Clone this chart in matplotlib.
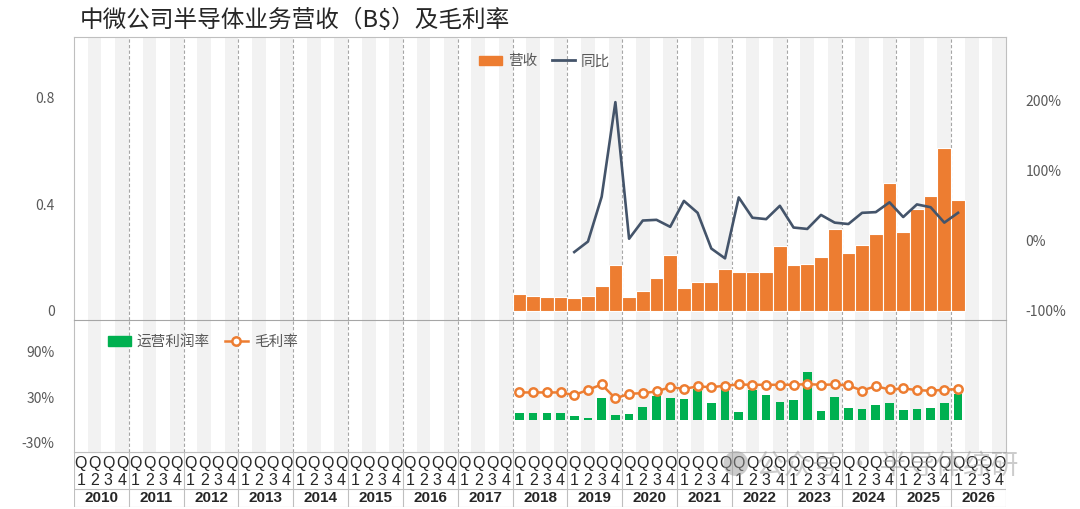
import matplotlib.pyplot as plt
import matplotlib.lines as mlines
import matplotlib.patches as mpatches

plt.rcParams['font.family'] = ['Noto Sans CJK SC', 'DejaVu Sans']

# data (2018Q1 onwards)
years = [str(y) for y in range(2010, 2027)]
start_q = 32  # 2018Q1 index
revenue = [0.063, 0.056, 0.054, 0.054, 0.050, 0.058, 0.094, 0.174,
           0.053, 0.075, 0.124, 0.210, 0.088, 0.109, 0.109, 0.158,
           0.145, 0.148, 0.145, 0.244, 0.174, 0.176, 0.204, 0.309,
           0.219, 0.249, 0.289, 0.482, 0.295, 0.384, 0.431, 0.613,
           0.418]
yoy_start = 36  # 2019Q1
yoy = [-16, -1, 63, 198, 3, 29, 30, 20, 57, 40, -11, -25,
       62, 33, 31, 50, 19, 17, 37, 26, 24, 40, 41, 55,
       34, 52, 48, 26, 40]
op_margin = [8.8, 8.8, 8.8, 8.8, 5.7, 3, 28.6, 6.6,
             7.9, 17, 31.6, 28.6, 27.3, 40.4, 22.9, 40.4,
             11, 39.6, 33.4, 24.2, 25.9, 63.3, 12.3, 30.8,
             15.8, 14.9, 19.8, 22, 13.2, 14.9, 16.3, 22.9,
             33.8]
gross_margin = [36.5, 36.5, 36.5, 36.5, 33, 40, 47, 28.6,
                34.7, 35.6, 37.8, 43.5, 41.3, 44.4, 43.5, 45.3,
                47, 46.6, 46.6, 46.6, 46.6, 47.5, 46.6, 47,
                45.7, 39, 44.8, 40.4, 41.8, 39.6, 38.7, 40,
                40.9]

ORANGE = '#ED7D31'
NAVY = '#44546A'
GREEN = '#00B050'
STRIPE = '#F2F2F2'
GRID = '#A6A6A6'
TXT = '#595959'

W, H = 1080, 509
fig = plt.figure(figsize=(W / 100, H / 100), dpi=100)


def px_axes(x0, y0, x1, y1):
    return fig.add_axes([x0 / W, 1 - y1 / H, (x1 - x0) / W, (y1 - y0) / H])


x_l, x_r = 74, 1006
n_q = len(years) * 4
qx_rev = list(range(start_q, start_q + len(revenue)))
qx_yoy = list(range(yoy_start, yoy_start + len(yoy)))


def background(ax):
    for k in range(n_q):
        if k % 4 in (1, 3):
            ax.axvspan(k - 0.5, k + 0.5, color=STRIPE, lw=0, zorder=0)
    for i in range(1, len(years)):
        ax.axvline(4 * i - 0.5, color=GRID, lw=0.8, ls=(0, (3, 2)), zorder=0.5)
    ax.set_xlim(-0.5, n_q - 0.5)
    ax.set_xticks([])
    for s in ax.spines.values():
        s.set_color('#BFBFBF')
        s.set_linewidth(0.8)


# top panel
ax1 = px_axes(x_l, 37, x_r, 320)
background(ax1)
ax1.bar(qx_rev, revenue, width=1.0, color=ORANGE, edgecolor='white', lw=0.8, zorder=2)
ax1.set_ylim(-0.034, 1.029)
ax1.set_yticks([0, 0.4, 0.8])
ax1.set_yticklabels(['0', '0.4', '0.8'])
ax1.tick_params(axis='y', length=0, pad=14, labelcolor=TXT, labelsize=10)
ax1.spines['bottom'].set_visible(False)

ax2 = ax1.twinx()
ax2.plot(qx_yoy, yoy, color=NAVY, lw=1.9, zorder=3)
ax2.set_ylim(-113, 291)
ax2.set_yticks([-100, 0, 100, 200])
ax2.set_yticklabels(['-100%', '0%', '100%', '200%'])
ax2.tick_params(axis='y', length=0, pad=14, labelcolor=TXT, labelsize=10)
for s in ax2.spines.values():
    s.set_visible(False)

h1 = mpatches.Patch(color=ORANGE, label='营收')
h2 = mlines.Line2D([], [], color=NAVY, lw=2, label='同比')
leg = ax1.legend(handles=[h1, h2], loc='upper center', bbox_to_anchor=(0.505, 0.985),
                 ncol=2, frameon=False, fontsize=10.5, handlelength=1.6,
                 handleheight=0.6, columnspacing=1.0, handletextpad=0.4)
for t in leg.get_texts():
    t.set_color(TXT)

# bottom panel
ax3 = px_axes(x_l, 320, x_r, 452)
background(ax3)
ax3.bar(qx_rev, op_margin, width=0.63, color=GREEN, zorder=2)
ax3.plot(qx_rev, gross_margin, color=ORANGE, lw=1.8, marker='o', markersize=6,
         markerfacecolor='white', markeredgecolor=ORANGE, markeredgewidth=1.8, zorder=3)
ax3.set_ylim(-42, 132)
ax3.set_yticks([-30, 30, 90])
ax3.set_yticklabels(['-30%', '30%', '90%'])
ax3.tick_params(axis='y', length=0, pad=14, labelcolor=TXT, labelsize=10)
ax3.spines['top'].set_color('#A6A6A6')

h3 = mpatches.Patch(color=GREEN, label='运营利润率')
h4 = mlines.Line2D([], [], color=ORANGE, lw=1.8, marker='o', markersize=6,
                   markerfacecolor='white', markeredgewidth=1.8, label='毛利率')
leg2 = ax3.legend(handles=[h3, h4], loc='upper left', bbox_to_anchor=(0.022, 0.985),
                  ncol=2, frameon=False, fontsize=10.5, handlelength=1.6,
                  handleheight=0.6, columnspacing=1.0, handletextpad=0.4)
for t in leg2.get_texts():
    t.set_color(TXT)

# category table
ax4 = px_axes(x_l, 452, x_r, 507)
ax4.set_xlim(-0.5, n_q - 0.5)
ax4.set_ylim(0, 3)
ax4.axis('off')
for k in range(n_q):
    ax4.text(k, 2.4, 'Q', ha='center', va='center', fontsize=11.5,
             family='Liberation Sans', color='#262626')
    ax4.text(k, 1.45, str(k % 4 + 1), ha='center', va='center', fontsize=11.5,
             family='Liberation Sans', color='#262626')
for i, yr in enumerate(years):
    ax4.text(4 * i + 1.5, 0.5, yr, ha='center', va='center', fontsize=11,
             family='Liberation Sans', weight='bold', color='#262626')
for i in range(len(years) + 1):
    ax4.plot([4 * i - 0.5] * 2, [0, 3], color='#BFBFBF', lw=0.8)
for yv in (0, 1, 3):
    ax4.plot([-0.5, n_q - 0.5], [yv, yv], color='#BFBFBF', lw=0.8)

# title
fig.text(80 / W, 1 - 20 / H, '中微公司半导体业务营收（B$）及毛利率', fontsize=17,
         va='center', ha='left', color='#262626')

# watermark
fig.text(722 / W, 1 - 466 / H, '● 公众号 · 半导体综研', fontsize=20, va='center',
         ha='left', color='#9a9a9a', alpha=0.5)

fig.savefig('out.png', dpi=100)
